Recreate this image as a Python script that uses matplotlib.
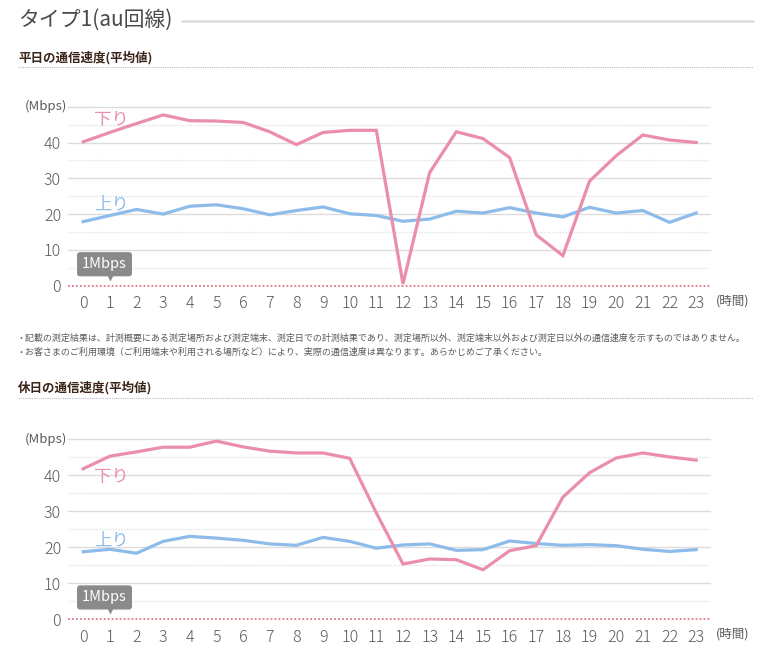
import matplotlib
matplotlib.use("Agg")
import matplotlib.pyplot as plt
from matplotlib.lines import Line2D

plt.rcParams['font.family'] = ['Noto Sans CJK JP', 'DejaVu Sans']

hours = list(range(24))

# weekday averages (Mbps)
weekday_down = [40.2, 42.8, 45.3, 47.7, 46.1, 46.0, 45.6, 43.0, 39.4, 42.8, 43.4, 43.4,
                0.5, 31.6, 43.0, 41.1, 35.8, 14.2, 8.4, 29.2, 36.3, 42.1, 40.7, 40.0]
weekday_up = [17.9, 19.6, 21.3, 20.0, 22.2, 22.6, 21.5, 19.8, 21.0, 22.0, 20.1, 19.6,
              18.0, 18.6, 20.8, 20.3, 21.8, 20.3, 19.2, 21.9, 20.3, 21.0, 17.7, 20.3]

# holiday averages (Mbps)
holiday_down = [41.8, 45.3, 46.5, 47.8, 47.8, 49.5, 47.9, 46.7, 46.2, 46.2, 44.7, 29.5,
                15.3, 16.7, 16.5, 13.7, 19.0, 20.4, 33.9, 40.7, 44.8, 46.2, 45.1, 44.2]
holiday_up = [18.7, 19.4, 18.3, 21.6, 23.0, 22.5, 21.9, 20.9, 20.5, 22.7, 21.6, 19.7,
              20.6, 20.9, 19.1, 19.3, 21.7, 21.0, 20.5, 20.7, 20.4, 19.4, 18.8, 19.3]

y_ticks = [0, 10, 20, 30, 40]
minor_grid = [5, 15, 25, 35, 45]
major_grid = [10, 20, 30, 40, 50]

PINK = '#ea8eaa'
BLUE = '#8dbbea'
TXT = '#5a5a5a'
BROWN = '#3b2418'

W, H = 760, 661
fig = plt.figure(figsize=(W / 100, H / 100), dpi=100)


def fx(px):
    return px / W


def fy(py):
    return 1 - py / H


def chart(top, bottom, down, up, down_lbl_y, up_lbl_y):
    ax = fig.add_axes([fx(68), fy(bottom), fx(710) - fx(68), fy(top) - fy(bottom)])
    ax.set_xlim(-0.57, 23.52)
    ax.set_ylim(0, 50)
    for s in ax.spines.values():
        s.set_visible(False)
    for g in major_grid:
        ax.axhline(g, color='#dcdcdc', lw=1.0, zorder=1, clip_on=False)
    for g in minor_grid:
        ax.axhline(g, color='#e2e2e2', lw=1.0, ls=(0, (1, 1)), zorder=1)
    ax.axhline(0, color='#e07585', lw=1.3, ls=(0, (1, 1.2)), zorder=2, clip_on=False)

    ax.plot(hours, down, color=PINK, lw=2.3, zorder=4, clip_on=False, solid_joinstyle='miter')
    ax.plot(hours, up, color=BLUE, lw=2.3, zorder=3, clip_on=False, solid_joinstyle='miter')

    ax.set_xticks(hours)
    ax.set_xticklabels([str(h) for h in hours])
    ax.set_yticks(y_ticks)
    ax.tick_params(axis='both', length=0, labelsize=11.5, labelcolor=TXT)
    ax.tick_params(axis='y', pad=5)
    ax.tick_params(axis='x', pad=7)
    for lbl in ax.get_xticklabels() + ax.get_yticklabels():
        lbl.set_fontweight('light')

    ax.text(-0.62, 50, '(Mbps)', ha='right', va='center', fontsize=9.5, color=TXT)
    ax.text(23.75, -2.4, '(時間)', ha='left', va='top', fontsize=9, color=TXT,
            clip_on=False)
    ax.text(0.40, down_lbl_y, '下り', ha='left', va='center', fontsize=12.5, color=PINK)
    ax.text(0.40, up_lbl_y, '上り', ha='left', va='center', fontsize=12.5, color=BLUE)

    # 1Mbps marker
    ax.text(0.8, 6.0, '1Mbps', ha='center', va='center', fontsize=10.5, color='white',
            zorder=6, bbox=dict(boxstyle='round,pad=0.35,rounding_size=0.2',
                                fc='#8a8a8a', ec='none'))
    ax.plot([1.0], [2.4], marker='v', ms=6, color='#8a8a8a', mec='none', zorder=6,
            clip_on=False)
    return ax


# header
fig.text(fx(18), fy(20), 'タイプ1(au回線)', ha='left', va='center', fontsize=15, color='#4a4a4a')
fig.add_artist(Line2D([fx(182), fx(753)], [fy(20.5), fy(20.5)], color='#dedede', lw=1.8))

fig.text(fx(18), fy(58), '平日の通信速度(平均値)', ha='left', va='center', fontsize=9,
         fontweight='bold', color=BROWN)
fig.add_artist(Line2D([fx(18), fx(753)], [fy(67), fy(67)], color='#bdbdbd', lw=0.8,
                      ls=(0, (1, 1))))

chart(106.7, 285.7, weekday_down, weekday_up, 46.2, 22.8)

notes = [
    '・記載の測定結果は、計測概要にある測定場所および測定端末、測定日での計測結果であり、測定場所以外、測定端末以外および測定日以外の通信速度を示すものではありません。',
    '・お客さまのご利用環境（ご利用端末や利用される場所など）により、実際の通信速度は異なります。あらかじめご了承ください。',
]
fig.text(fx(16), fy(338), notes[0], ha='left', va='center', fontsize=6.5, color=TXT)
fig.text(fx(16), fy(352), notes[1], ha='left', va='center', fontsize=6.5, color=TXT)

fig.text(fx(18), fy(388), '休日の通信速度(平均値)', ha='left', va='center', fontsize=9,
         fontweight='bold', color=BROWN)
fig.add_artist(Line2D([fx(18), fx(753)], [fy(398), fy(398)], color='#bdbdbd', lw=0.8,
                      ls=(0, (1, 1))))

chart(439.3, 619, holiday_down, holiday_up, 39.5, 22.0)

fig.savefig('out.png', dpi=100, facecolor='white')
